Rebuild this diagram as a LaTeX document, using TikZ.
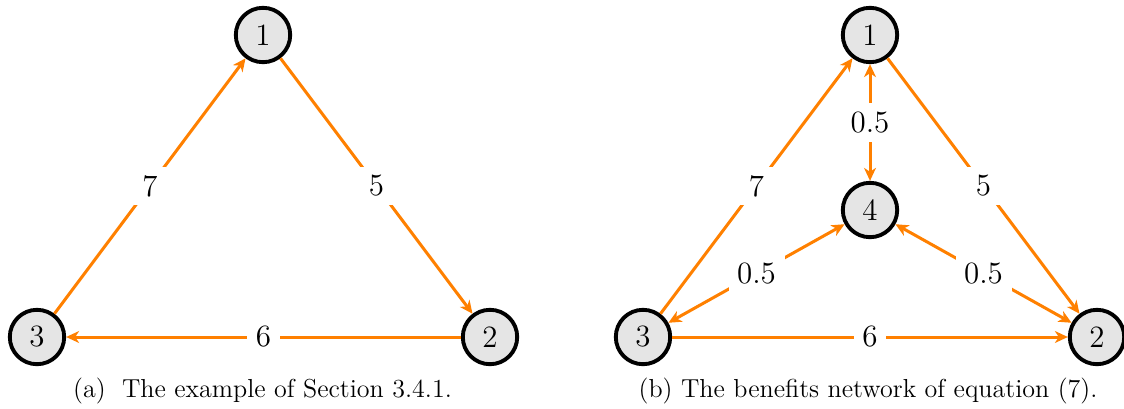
\documentclass[tikz,border=0pt]{standalone}
\usetikzlibrary{arrows.meta}
\definecolor{edgeorange}{RGB}{255,128,0}
\tikzset{
  vert/.style={circle, draw=black, line width=1.8pt, fill=black!10, minimum size=25.3pt, inner sep=0pt, font=\Large},
  edge/.style={draw=edgeorange, line width=1.4pt},
  tip/.style={-{Stealth[length=6pt,width=5.5pt,inset=1.8pt]}},
  tips/.style={{Stealth[length=6pt,width=5.5pt,inset=1.8pt]}-{Stealth[length=6pt,width=5.5pt,inset=1.8pt]}},
  lbl/.style={fill=white, font=\Large, inner sep=4pt},
  captext/.style={font=\fontsize{12.1}{14}\selectfont, anchor=base, inner sep=0pt},
}
\begin{document}
\begin{tikzpicture}[x=0.465pt, y=-0.465pt]
\useasboundingbox (0,0) rectangle (1124,408);
% (a)
\node[vert] (a1) at (263,35) {1};
\node[vert] (a2) at (490,337) {2};
\node[vert] (a3) at (37,337) {3};
\draw[edge,tip] (a3) -- node[lbl] (la7) {7} (a1);
\draw[edge,tip] (a1) -- node[lbl] (la5) {5} (a2);
\draw[edge,tip] (a2) -- node[lbl] (la6) {6} (a3);
\node[captext] (capa) at (262.5,397) {(a)\hspace{0.3em} The example of Section 3.4.1.};
% (b)
\node[vert] (b1) at (870,35) {1};
\node[vert] (b4) at (870,210) {4};
\node[vert] (b3) at (643,337) {3};
\node[vert] (b2) at (1097,337) {2};
\draw[edge,tip] (b3) -- node[lbl] (lb7) {7} (b1);
\draw[edge,tip] (b1) -- node[lbl] (lb5) {5} (b2);
\draw[edge,tip] (b3) -- node[lbl] (lb6) {6} (b2);
\draw[edge,tips] (b1) -- node[lbl] (lb14) {0.5} (b4);
\draw[edge,tips] (b3) -- node[lbl] (lb34) {0.5} (b4);
\draw[edge,tips] (b4) -- node[lbl] (lb42) {0.5} (b2);
\node[captext] (capb) at (868,397) {(b) The benefits network of equation (7).};
\end{tikzpicture}
\end{document}
